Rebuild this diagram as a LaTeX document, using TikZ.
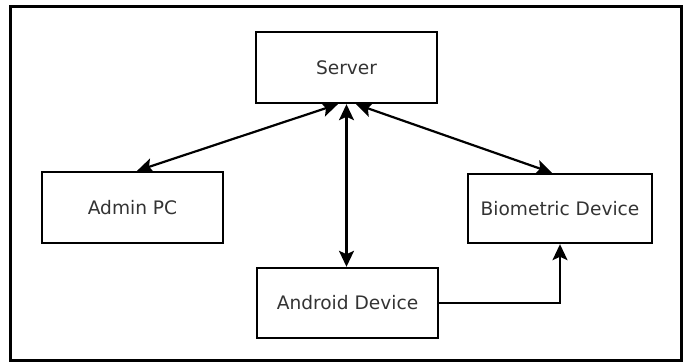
\documentclass[tikz,border=0pt]{standalone}
\usepackage{fontspec}
\setmainfont{DejaVu Sans}
\usetikzlibrary{arrows.meta,calc}
\begin{document}
\begin{tikzpicture}[x=1pt,y=-1pt,
  box/.style={draw=black,line width=2.4pt,rectangle,inner sep=0pt,
    font=\fontsize{18.6}{20}\selectfont,text=black!80},
  tip/.style={Stealth[length=16pt,width=15pt,inset=3.5pt]},
  link/.style={line width=2.2pt,{Stealth[length=16pt,width=15pt,inset=3.5pt]}-{Stealth[length=16pt,width=15pt,inset=3.5pt]}},
  onelink/.style={line width=2.2pt,-{Stealth[length=16pt,width=15pt,inset=3.5pt]}}]
\useasboundingbox (0,0) rectangle (689,363);
\draw[line width=3pt] (10,7) rectangle (681,360.5);
\node[box,minimum width=181pt,minimum height=71pt] (server) at (346.5,67.5) {Server};
\node[box,minimum width=181pt,minimum height=71pt] (admin) at (132.5,207.5) {Admin PC};
\node[box,minimum width=181pt,minimum height=70pt] (android) at (347.5,303) {Android Device};
\node[box,minimum width=184pt,minimum height=69pt] (bio) at (560,208.5) {Biometric Device};
\coordinate (sA) at ($(server.south west)!0.453!(server.south east)$);
\coordinate (sB) at ($(server.south west)!0.552!(server.south east)$);
\coordinate (aT) at ($(admin.north west)!0.525!(admin.north east)$);
\coordinate (bT) at ($(bio.north west)!0.457!(bio.north east)$);
\draw[link] (sA) -- (aT);
\draw[link] (sB) -- (bT);
\draw[link] (server.south) -- (server.south |- android.north);
\draw[onelink] (android.east) -| (bio.south);
\end{tikzpicture}
\end{document}
